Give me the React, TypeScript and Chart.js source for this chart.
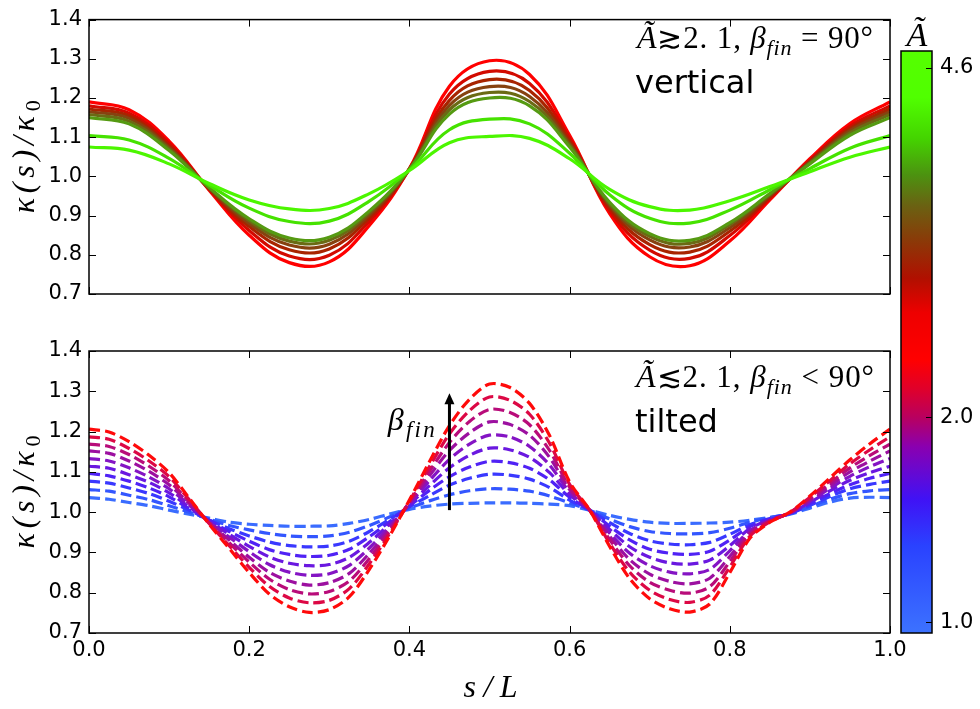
import React, { useEffect, useRef } from 'react';
import { Chart, registerables } from 'chart.js';

Chart.register(...registerables);

// ---------- data ----------
const S_TOP = [0, 0.05, 0.1, 0.15, 0.2, 0.25, 0.3, 0.35, 0.4, 0.45, 0.5, 0.55, 0.6, 0.65, 0.7, 0.75, 0.8, 0.85, 0.9, 0.95, 1.0];
const S_BOT = [0, 0.025, 0.05, 0.075, 0.1, 0.125, 0.15, 0.175, 0.2, 0.225, 0.25, 0.275, 0.3, 0.325, 0.35, 0.375, 0.4, 0.425, 0.45, 0.475, 0.5, 0.525, 0.55, 0.575, 0.6, 0.625, 0.65, 0.675, 0.7, 0.725, 0.75, 0.775, 0.8, 0.825, 0.85, 0.875, 0.9, 0.925, 0.95, 0.975, 1.0];

// top panel: A >~ 2.1, vertical (red -> green)
const VERT_1 = [1.19, 1.17, 1.09, 0.965, 0.85, 0.78, 0.782, 0.875, 1.02, 1.23, 1.295, 1.26, 1.105, 0.905, 0.795, 0.772, 0.835, 0.94, 1.045, 1.135, 1.19];
const VERT_2 = [1.18, 1.161, 1.084, 0.967, 0.862, 0.797, 0.799, 0.886, 1.019, 1.21, 1.268, 1.237, 1.097, 0.913, 0.812, 0.791, 0.849, 0.945, 1.041, 1.128, 1.18];
const VERT_3 = [1.172, 1.154, 1.078, 0.968, 0.872, 0.813, 0.815, 0.895, 1.019, 1.194, 1.247, 1.219, 1.09, 0.92, 0.826, 0.807, 0.86, 0.948, 1.038, 1.122, 1.172];
const VERT_4 = [1.165, 1.148, 1.074, 0.97, 0.88, 0.825, 0.827, 0.902, 1.018, 1.181, 1.229, 1.204, 1.084, 0.926, 0.838, 0.82, 0.869, 0.951, 1.036, 1.117, 1.165];
const VERT_5 = [1.158, 1.141, 1.07, 0.971, 0.887, 0.835, 0.837, 0.908, 1.018, 1.17, 1.214, 1.191, 1.08, 0.93, 0.847, 0.829, 0.877, 0.954, 1.034, 1.111, 1.158];
const VERT_6 = [1.15, 1.134, 1.066, 0.972, 0.892, 0.843, 0.845, 0.912, 1.018, 1.159, 1.2, 1.18, 1.075, 0.934, 0.854, 0.837, 0.882, 0.956, 1.032, 1.105, 1.15];
const VERT_7 = [1.104, 1.093, 1.046, 0.978, 0.919, 0.885, 0.886, 0.937, 1.016, 1.119, 1.146, 1.134, 1.059, 0.953, 0.893, 0.881, 0.914, 0.966, 1.02, 1.072, 1.104];
const VERT_8 = [1.075, 1.067, 1.032, 0.982, 0.94, 0.917, 0.918, 0.956, 1.015, 1.086, 1.102, 1.097, 1.045, 0.967, 0.923, 0.914, 0.938, 0.974, 1.012, 1.049, 1.075];
const VERT_SERIES = [VERT_1, VERT_2, VERT_3, VERT_4, VERT_5, VERT_6, VERT_7, VERT_8];
const VERT_COLORS = ['#ff0000', '#d20a00', '#a82400', '#864210', '#6a6a14', '#559a12', '#46e200', '#4cf600'];

// bottom panel: A <~ 2.1, tilted (blue -> red)
const TILT_1 = [1.036, 1.032, 1.024, 1.016, 1.005, 0.995, 0.985, 0.975, 0.97, 0.967, 0.965, 0.965, 0.966, 0.972, 0.982, 0.995, 1.007, 1.015, 1.02, 1.022, 1.023, 1.023, 1.022, 1.02, 1.016, 1.005, 0.992, 0.982, 0.975, 0.972, 0.972, 0.973, 0.975, 0.98, 0.987, 0.995, 1.01, 1.025, 1.035, 1.037, 1.036];
const TILT_2 = [1.056, 1.052, 1.042, 1.031, 1.016, 1.0, 0.983, 0.967, 0.956, 0.947, 0.941, 0.939, 0.941, 0.95, 0.967, 0.988, 1.01, 1.028, 1.043, 1.053, 1.058, 1.057, 1.052, 1.04, 1.023, 1.005, 0.983, 0.964, 0.952, 0.947, 0.946, 0.949, 0.96, 0.975, 0.986, 0.996, 1.014, 1.032, 1.046, 1.053, 1.056];
const TILT_3 = [1.077, 1.072, 1.06, 1.046, 1.027, 1.005, 0.981, 0.959, 0.941, 0.926, 0.917, 0.914, 0.916, 0.928, 0.952, 0.982, 1.013, 1.041, 1.067, 1.084, 1.094, 1.092, 1.082, 1.061, 1.03, 1.005, 0.974, 0.947, 0.929, 0.921, 0.919, 0.925, 0.945, 0.969, 0.984, 0.996, 1.017, 1.039, 1.058, 1.069, 1.077];
const TILT_4 = [1.096, 1.09, 1.077, 1.06, 1.038, 1.009, 0.98, 0.952, 0.928, 0.907, 0.895, 0.89, 0.893, 0.908, 0.939, 0.976, 1.015, 1.054, 1.088, 1.112, 1.126, 1.123, 1.109, 1.08, 1.037, 1.005, 0.965, 0.931, 0.908, 0.898, 0.895, 0.903, 0.931, 0.964, 0.983, 0.997, 1.021, 1.046, 1.068, 1.084, 1.096];
const TILT_5 = [1.114, 1.109, 1.093, 1.074, 1.048, 1.013, 0.978, 0.945, 0.915, 0.889, 0.873, 0.867, 0.87, 0.888, 0.925, 0.97, 1.018, 1.066, 1.11, 1.141, 1.159, 1.155, 1.136, 1.098, 1.043, 1.005, 0.957, 0.914, 0.888, 0.874, 0.871, 0.881, 0.917, 0.959, 0.981, 0.997, 1.024, 1.053, 1.079, 1.098, 1.114];
const TILT_6 = [1.133, 1.127, 1.11, 1.087, 1.058, 1.018, 0.976, 0.938, 0.902, 0.87, 0.851, 0.843, 0.847, 0.868, 0.911, 0.964, 1.02, 1.078, 1.131, 1.169, 1.191, 1.187, 1.163, 1.117, 1.05, 1.005, 0.948, 0.898, 0.867, 0.851, 0.847, 0.858, 0.904, 0.954, 0.98, 0.998, 1.027, 1.059, 1.089, 1.113, 1.133];
const TILT_7 = [1.152, 1.146, 1.127, 1.101, 1.068, 1.022, 0.975, 0.931, 0.888, 0.851, 0.829, 0.819, 0.825, 0.848, 0.898, 0.958, 1.023, 1.09, 1.153, 1.197, 1.224, 1.218, 1.191, 1.136, 1.056, 1.005, 0.94, 0.882, 0.846, 0.828, 0.822, 0.836, 0.89, 0.949, 0.979, 0.998, 1.03, 1.066, 1.1, 1.127, 1.152];
const TILT_8 = [1.169, 1.163, 1.143, 1.114, 1.078, 1.026, 0.973, 0.924, 0.876, 0.834, 0.808, 0.797, 0.803, 0.829, 0.885, 0.952, 1.025, 1.101, 1.173, 1.225, 1.255, 1.248, 1.217, 1.153, 1.062, 1.005, 0.932, 0.867, 0.826, 0.806, 0.799, 0.815, 0.877, 0.945, 0.978, 0.999, 1.034, 1.072, 1.11, 1.141, 1.169];
const TILT_9 = [1.187, 1.181, 1.158, 1.127, 1.088, 1.031, 0.972, 0.917, 0.863, 0.816, 0.787, 0.775, 0.781, 0.81, 0.872, 0.946, 1.027, 1.113, 1.194, 1.252, 1.286, 1.278, 1.243, 1.171, 1.069, 1.005, 0.923, 0.851, 0.806, 0.783, 0.776, 0.794, 0.864, 0.94, 0.976, 0.999, 1.037, 1.078, 1.12, 1.155, 1.187];
const TILT_10 = [1.206, 1.199, 1.175, 1.141, 1.098, 1.035, 0.97, 0.91, 0.85, 0.797, 0.765, 0.751, 0.758, 0.79, 0.858, 0.94, 1.03, 1.125, 1.215, 1.28, 1.318, 1.31, 1.27, 1.19, 1.075, 1.005, 0.915, 0.835, 0.785, 0.76, 0.752, 0.772, 0.85, 0.935, 0.975, 1.0, 1.04, 1.085, 1.13, 1.17, 1.206];
const TILT_SERIES = [TILT_1, TILT_2, TILT_3, TILT_4, TILT_5, TILT_6, TILT_7, TILT_8, TILT_9, TILT_10];
const TILT_COLORS = ['#3a6cff', '#3356ff', '#3a38ff', '#5022f5', '#6a18e0', '#8414c4', '#9c10a0', '#b80c7a', '#dc0845', '#ff0a0a'];

const X_TICKS = [0, 0.2, 0.4, 0.6, 0.8, 1.0];
const Y_TICKS = [0.7, 0.8, 0.9, 1.0, 1.1, 1.2, 1.3, 1.4];
const Y_MIN = 0.7;
const Y_MAX = 1.4;

// arrow (beta_fin increasing)
const ARROW_S = 0.45;
const ARROW_FROM = 1.005;
const ARROW_TO = 1.295;

// colorbar
const CB_TICK_VALUES = [1.0, 2.0, 4.6];
const CB_TICK_LABELS = ['1.0', '2.0', '4.6'];
const CB_STOPS: [number, string][] = [
  [0.0, '#3c72ff'],
  [0.15, '#2a42ff'],
  [0.23, '#4012f5'],
  [0.32, '#8a00b0'],
  [0.37, '#b80060'],
  [0.42, '#e0002a'],
  [0.47, '#ff0000'],
  [0.55, '#ee0000'],
  [0.61, '#b01000'],
  [0.675, '#8a3a08'],
  [0.735, '#6a6212'],
  [0.787, '#4c9210'],
  [0.85, '#44d400'],
  [0.92, '#50ff00'],
  [1.0, '#55ff00'],
];
function cbFrac(v: number) {
  return v <= 2.1 ? 0.406 - (2.1 - v) * 0.352 : 0.406 + (v - 2.1) * 0.226;
}

// ---------- drawing helpers ----------
const SERIF = '"Liberation Serif", "DejaVu Serif", serif';
const SANS = '"DejaVu Sans", sans-serif';
type Part = { t: string; size: number; italic?: boolean; dy?: number; sans?: boolean };
function setFont(ctx: CanvasRenderingContext2D, p: Part) {
  ctx.font = `${p.italic ? 'italic ' : ''}${p.size}px ${p.sans ? SANS : SERIF}`;
}
function drawParts(ctx: CanvasRenderingContext2D, parts: Part[], x: number, y: number) {
  let cx = x;
  ctx.textAlign = 'left';
  ctx.textBaseline = 'alphabetic';
  for (const p of parts) {
    setFont(ctx, p);
    ctx.fillText(p.t, cx, y + (p.dy || 0));
    cx += ctx.measureText(p.t).width;
  }
}
// draws glyph by glyph, spread so that the whole run spans `target` px
function drawSpread(ctx: CanvasRenderingContext2D, parts: Part[], x: number, y: number, target: number, center = false) {
  const items: Part[] = [];
  for (const p of parts) for (const ch of Array.from(p.t)) items.push({ ...p, t: ch });
  let nat = 0;
  const ws = items.map((it) => {
    setFont(ctx, it);
    const w = ctx.measureText(it.t).width;
    nat += w;
    return w;
  });
  const gap = items.length > 1 ? (target - nat) / (items.length - 1) : 0;
  let cx = center ? x - target / 2 : x;
  ctx.textAlign = 'left';
  ctx.textBaseline = 'alphabetic';
  items.forEach((it, i) => {
    setFont(ctx, it);
    ctx.fillText(it.t, cx, y + (it.dy || 0));
    cx += ws[i] + gap;
  });
}

function drawFrame(chart: any) {
  const { ctx, chartArea: a, scales } = chart;
  ctx.save();
  ctx.strokeStyle = '#000';
  ctx.lineWidth = 1;
  ctx.beginPath();
  for (const v of X_TICKS) {
    const px = Math.round(scales.x.getPixelForValue(v)) + 0.5;
    ctx.moveTo(px, a.bottom);
    ctx.lineTo(px, a.bottom - 7);
    ctx.moveTo(px, a.top);
    ctx.lineTo(px, a.top + 7);
  }
  for (const v of Y_TICKS) {
    const py = Math.round(scales.y.getPixelForValue(v)) + 0.5;
    ctx.moveTo(a.left, py);
    ctx.lineTo(a.left + 7, py);
    ctx.moveTo(a.right, py);
    ctx.lineTo(a.right - 7, py);
  }
  ctx.stroke();
  ctx.lineWidth = 1.5;
  ctx.strokeRect(a.left, a.top, a.right - a.left, a.bottom - a.top);
  // y-axis title
  ctx.fillStyle = '#000';
  ctx.translate(34, (a.top + a.bottom) / 2);
  ctx.rotate(-Math.PI / 2);
  drawSpread(ctx, [
    { t: 'κ(s)/κ', size: 32, italic: true },
    { t: '0', size: 22, dy: 6 },
  ], 0, 0, 113, true);
  ctx.restore();
}

const topPlugin = {
  id: 'topPanel',
  afterDatasetsDraw(chart: any) {
    drawFrame(chart);
    const { ctx } = chart;
    ctx.save();
    ctx.fillStyle = '#000';
    drawSpread(ctx, [
      { t: 'Ã', size: 32, italic: true },
      { t: '≳', size: 30 },
      { t: '2. 1, ', size: 31 },
      { t: 'β', size: 31, italic: true },
      { t: 'fin', size: 22, italic: true, dy: 7 },
      { t: ' = 90°', size: 31 },
    ], 637, 48, 236);
    drawParts(ctx, [{ t: 'vertical', size: 32, sans: true }], 635, 93);
    ctx.restore();
  },
};

const BOT_OFFSET = 320;
const bottomPlugin = {
  id: 'bottomPanel',
  afterDatasetsDraw(chart: any) {
    const { ctx, scales, chartArea: a } = chart;
    // arrow
    const x = scales.x.getPixelForValue(ARROW_S);
    const y0 = scales.y.getPixelForValue(ARROW_FROM);
    const y1 = scales.y.getPixelForValue(ARROW_TO);
    ctx.save();
    ctx.strokeStyle = '#000';
    ctx.fillStyle = '#000';
    ctx.lineWidth = 3;
    ctx.beginPath();
    ctx.moveTo(x, y0);
    ctx.lineTo(x, y1 + 8);
    ctx.stroke();
    ctx.beginPath();
    ctx.moveTo(x, y1);
    ctx.lineTo(x - 5, y1 + 11);
    ctx.lineTo(x + 5, y1 + 11);
    ctx.closePath();
    ctx.fill();
    // beta_fin label
    drawSpread(ctx, [
      { t: 'β', size: 32, italic: true },
      { t: 'fin', size: 23, italic: true, dy: 7 },
    ], scales.x.getPixelForValue(0.373), scales.y.getPixelForValue(1.204), 47);
    ctx.restore();

    drawFrame(chart);

    ctx.save();
    ctx.fillStyle = '#000';
    drawSpread(ctx, [
      { t: 'Ã', size: 32, italic: true },
      { t: '≲', size: 30 },
      { t: '2. 1, ', size: 31 },
      { t: 'β', size: 31, italic: true },
      { t: 'fin', size: 22, italic: true, dy: 7 },
      { t: ' < 90°', size: 31 },
    ], 636, 387 - BOT_OFFSET, 238);
    drawParts(ctx, [{ t: 'tilted', size: 32, sans: true }], 635, 432 - BOT_OFFSET);
    // x-axis title
    drawSpread(ctx, [{ t: 's/L', size: 32, italic: true }], (a.left + a.right) / 2 + 1, 697 - BOT_OFFSET, 54, true);
    ctx.restore();
  },
};

const cbPlugin = {
  id: 'colorbarFrame',
  afterDatasetsDraw(chart: any) {
    const { ctx, chartArea: a, scales } = chart;
    ctx.save();
    ctx.strokeStyle = '#000';
    ctx.lineWidth = 1;
    ctx.beginPath();
    for (const v of CB_TICK_VALUES) {
      const py = Math.round(scales.y.getPixelForValue(cbFrac(v))) + 0.5;
      ctx.moveTo(a.right, py);
      ctx.lineTo(a.right - 6, py);
    }
    ctx.stroke();
    ctx.lineWidth = 1.5;
    ctx.strokeRect(a.left, a.top, a.right - a.left, a.bottom - a.top);
    ctx.fillStyle = '#000';
    drawSpread(ctx, [{ t: 'Ã', size: 34, italic: true }], (a.left + a.right) / 2 - 10, 46, 0);
    ctx.restore();
  },
};

function yScale() {
  return {
    type: 'linear' as const,
    min: Y_MIN,
    max: Y_MAX,
    ticks: {
      stepSize: 0.1,
      padding: 7,
      color: '#000',
      font: { family: SANS, size: 21 },
      callback: (v: any) => Number(v).toFixed(1),
    },
    grid: { display: false, drawTicks: false },
    border: { display: false },
    afterFit: (s: any) => {
      s.width = 89;
    },
  };
}

export default function App() {
  const topRef = useRef<HTMLCanvasElement>(null);
  const botRef = useRef<HTMLCanvasElement>(null);
  const cbRef = useRef<HTMLCanvasElement>(null);

  useEffect(() => {
    const n1 = VERT_SERIES.length;
    const top = new Chart(topRef.current!, {
      type: 'line',
      data: {
        datasets: VERT_SERIES.map((vals, i) => ({
          data: vals.map((v, j) => ({ x: S_TOP[j], y: v })),
          borderColor: VERT_COLORS[i],
          borderWidth: 3.2,
          pointRadius: 0,
          tension: 0.4,
          fill: false,
          order: n1 - i,
        })),
      },
      options: {
        responsive: false,
        animation: false,
        devicePixelRatio: 1,
        layout: { padding: { left: 0, right: 90, top: 13, bottom: 26 } },
        plugins: { legend: { display: false }, tooltip: { enabled: false } },
        scales: {
          x: { type: 'linear', min: 0, max: 1, display: false },
          y: yScale() as any,
        },
      },
      plugins: [topPlugin],
    });

    const n2 = TILT_SERIES.length;
    const bot = new Chart(botRef.current!, {
      type: 'line',
      data: {
        datasets: TILT_SERIES.map((vals, i) => ({
          data: vals.map((v, j) => ({ x: S_BOT[j], y: v })),
          borderColor: TILT_COLORS[i],
          borderWidth: 3.2,
          borderDash: [11, 5],
          pointRadius: 0,
          tension: 0.3,
          fill: false,
          order: n2 - i,
        })),
      },
      options: {
        responsive: false,
        animation: false,
        devicePixelRatio: 1,
        layout: { padding: { left: 0, right: 90, top: 31, bottom: 0 } },
        plugins: { legend: { display: false }, tooltip: { enabled: false } },
        scales: {
          x: {
            type: 'linear',
            min: 0,
            max: 1,
            ticks: {
              stepSize: 0.2,
              padding: 5,
              maxRotation: 0,
              color: '#000',
              font: { family: SANS, size: 21 },
              callback: (v: any) => Number(v).toFixed(1),
            },
            grid: { display: false, drawTicks: false },
            border: { display: false },
            afterFit: (s: any) => {
              s.height = 76;
            },
          },
          y: yScale() as any,
        },
      },
      plugins: [bottomPlugin],
    });

    const cb = new Chart(cbRef.current!, {
      type: 'bar',
      data: {
        labels: [''],
        datasets: [
          {
            data: [1],
            barPercentage: 1,
            categoryPercentage: 1,
            borderWidth: 0,
            backgroundColor: (c: any) => {
              const a = c.chart.chartArea;
              if (!a) return '#ff0000';
              const g = c.chart.ctx.createLinearGradient(0, a.bottom, 0, a.top);
              CB_STOPS.forEach(([f, col]) => g.addColorStop(f, col));
              return g;
            },
          },
        ],
      },
      options: {
        responsive: false,
        animation: false,
        devicePixelRatio: 1,
        layout: { padding: { left: 21, right: 0, top: 51, bottom: 76 } },
        plugins: { legend: { display: false }, tooltip: { enabled: false } },
        scales: {
          x: { display: false },
          y: {
            position: 'right',
            min: 0,
            max: 1,
            afterBuildTicks: (s: any) => {
              s.ticks = CB_TICK_VALUES.map((v) => ({ value: cbFrac(v) }));
            },
            ticks: {
              padding: 8,
              color: '#000',
              font: { family: SANS, size: 21 },
              callback: (_v: any, idx: number) => CB_TICK_LABELS[idx],
            },
            grid: { display: false, drawTicks: false },
            border: { display: false },
            afterFit: (s: any) => {
              s.width = 48;
            },
          },
        },
      },
      plugins: [cbPlugin],
    });

    return () => {
      top.destroy();
      bot.destroy();
      cb.destroy();
    };
  }, []);

  return (
    <div style={{ position: 'absolute', left: 0, top: 0, width: 980, height: 709, background: '#fff', overflow: 'hidden' }}>
      <canvas ref={topRef} width={980} height={320} style={{ position: 'absolute', left: 0, top: 0 }} />
      <canvas ref={botRef} width={980} height={389} style={{ position: 'absolute', left: 0, top: BOT_OFFSET }} />
      <canvas ref={cbRef} width={100} height={709} style={{ position: 'absolute', left: 880, top: 0 }} />
    </div>
  );
}
